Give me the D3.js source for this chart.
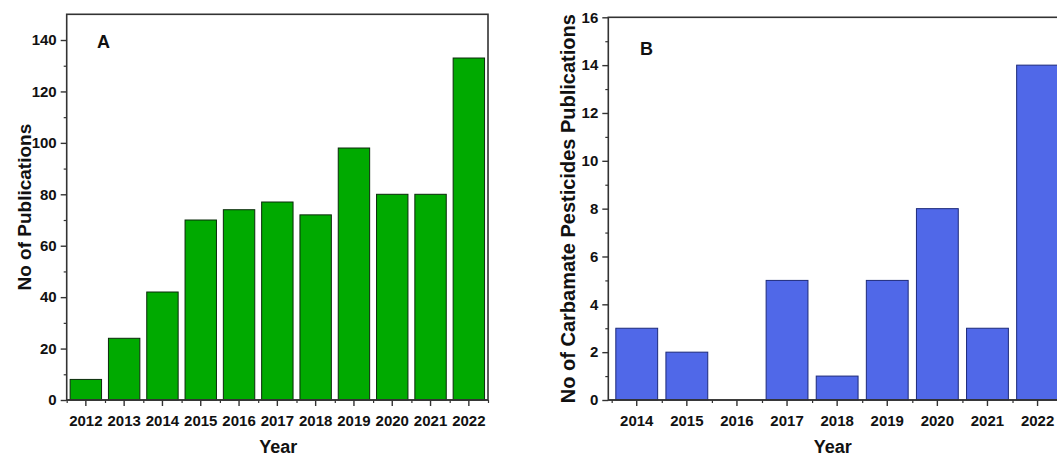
<!DOCTYPE html>
<html>
<head>
<meta charset="utf-8">
<script src="https://cdn.jsdelivr.net/npm/d3@7"></script>
<style>
  html, body { margin: 0; padding: 0; background: #fff; }
  svg { display: block; font-family: "Liberation Sans", Arial, sans-serif; }
  .tick text { font-weight: bold; font-size: 15px; fill: #111; }
  .domain { display: none; }
</style>
</head>
<body>
<svg id="chart" width="1057" height="458"></svg>
<script>
// Panel A: all publications per year
const yearsA = ["2012","2013","2014","2015","2016","2017","2018","2019","2020","2021","2022"];
const countsA = [8, 24, 42, 70, 74, 77, 72, 98, 80, 80, 133];
const yTicksA = [0, 20, 40, 60, 80, 100, 120, 140];
const yMinorA = [10, 30, 50, 70, 90, 110, 130];

// Panel B: carbamate pesticide publications per year
const yearsB = ["2014","2015","2016","2017","2018","2019","2020","2021","2022"];
const countsB = [3, 2, 0, 5, 1, 5, 8, 3, 14];
const yTicksB = [0, 2, 4, 6, 8, 10, 12, 14, 16];
const yMinorB = [1, 3, 5, 7, 9, 11, 13, 15];

const svg = d3.select("#chart");
const axisColor = "#333";

function panel(cfg) {
  const g = svg.append("g");
  const x = d3.scaleBand().domain(cfg.years).range([cfg.x0, cfg.x1])
    .paddingInner(cfg.pi).paddingOuter(cfg.po);
  const y = d3.scaleLinear().domain([0, cfg.yMax]).range([cfg.yBottom, cfg.yTop]);

  // bars
  g.selectAll("rect.bar").data(cfg.years).join("rect")
    .attr("class", "bar")
    .attr("x", d => x(d))
    .attr("width", x.bandwidth())
    .attr("y", (d, i) => y(cfg.values[i]))
    .attr("height", (d, i) => y(0) - y(cfg.values[i]))
    .attr("fill", cfg.fill)
    .attr("stroke", cfg.barStroke)
    .attr("stroke-width", 1);

  // frame (top and sides)
  g.append("rect")
    .attr("x", cfg.x0).attr("y", cfg.yTop)
    .attr("width", cfg.x1 - cfg.x0).attr("height", cfg.yBottom - cfg.yTop)
    .attr("fill", "none").attr("stroke", axisColor).attr("stroke-width", 1.6);

  // x axis: major ticks at bar centres, minor ticks between them
  const xMajor = d3.axisBottom(x).tickSize(6).tickPadding(9).tickSizeOuter(0);
  const gx = g.append("g").attr("transform", `translate(0,${cfg.yBottom})`).call(xMajor);
  gx.selectAll(".tick line").attr("stroke", axisColor).attr("stroke-width", 1.4);

  const first = +cfg.years[0], last = +cfg.years[cfg.years.length - 1];
  const xc = d3.scaleLinear().domain([first, last])
    .range([x(cfg.years[0]) + x.bandwidth() / 2, x(cfg.years[cfg.years.length - 1]) + x.bandwidth() / 2]);
  const halfYears = d3.range(first - 0.5, last + 1, 1);
  const gxm = g.append("g").attr("transform", `translate(0,${cfg.yBottom})`)
    .call(d3.axisBottom(xc).tickValues(halfYears).tickSize(3).tickFormat(""));
  gxm.selectAll(".tick line").attr("stroke", axisColor).attr("stroke-width", 1.2);

  // y axis: major and minor ticks
  const gy = g.append("g").attr("transform", `translate(${cfg.x0},0)`)
    .call(d3.axisLeft(y).tickValues(cfg.yTicks).tickSize(6).tickPadding(4).tickSizeOuter(0));
  gy.selectAll(".tick line").attr("stroke", axisColor).attr("stroke-width", 1.4);
  const gym = g.append("g").attr("transform", `translate(${cfg.x0},0)`)
    .call(d3.axisLeft(y).tickValues(cfg.yMinor).tickSize(3).tickFormat(""));
  gym.selectAll(".tick line").attr("stroke", axisColor).attr("stroke-width", 1.2);

  // axis line along the bottom
  g.append("line").attr("x1", cfg.x0).attr("x2", cfg.x1)
    .attr("y1", cfg.yBottom).attr("y2", cfg.yBottom)
    .attr("stroke", axisColor).attr("stroke-width", 1.6);

  // titles
  g.append("text")
    .attr("x", (cfg.x0 + Math.min(cfg.x1, 1057)) / 2 + cfg.xTitleShift).attr("y", 453)
    .attr("text-anchor", "middle").attr("font-weight", "bold").attr("font-size", 18)
    .attr("fill", "#111").text("Year");

  g.append("text")
    .attr("transform", `translate(${cfg.yTitleX},${(cfg.yTop + cfg.yBottom) / 2}) rotate(-90)`)
    .attr("text-anchor", "middle").attr("font-weight", "bold").attr("font-size", cfg.yTitleSize)
    .attr("fill", "#111").text(cfg.yTitle);

  g.append("text")
    .attr("x", cfg.tagX).attr("y", cfg.tagY)
    .attr("font-weight", "bold").attr("font-size", 18).attr("fill", "#111")
    .text(cfg.tag);
}

panel({
  years: yearsA, values: countsA, yTicks: yTicksA, yMinor: yMinorA, yMax: 150,
  x0: 66.7, x1: 488, yTop: 14.3, yBottom: 400, pi: 0.18, po: 0.09,
  fill: "#00aa00", barStroke: "#0b2a0b",
  yTitle: "No of Publications", yTitleX: 31, yTitleSize: 19,
  tag: "A", tagX: 97, tagY: 48, xTitleShift: 1
});

panel({
  years: yearsB, values: countsB, yTicks: yTicksB, yMinor: yMinorB, yMax: 16,
  x0: 608.3, x1: 1066, yTop: 17.3, yBottom: 400, pi: 0.165, po: 0.15,
  fill: "#5068e8", barStroke: "#1d2a7a",
  yTitle: "No of Carbamate Pesticides Publications", yTitleX: 575, yTitleSize: 20,
  tag: "B", tagX: 640, tagY: 55, xTitleShift: 0
});
</script>
</body>
</html>
